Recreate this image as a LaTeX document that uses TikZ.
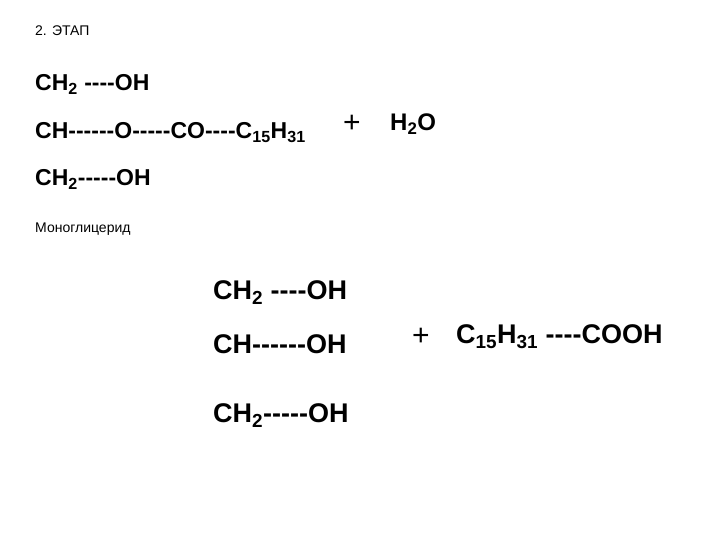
\documentclass[tikz,border=0pt]{standalone}
\usepackage{fontspec}
\setmainfont{Liberation Sans}[Ligatures=TeXOff]
\newcommand{\sbs}[1]{\textsubscript{#1}}
\begin{document}
\begin{tikzpicture}[x=1pt,y=-1pt,
  sm/.style={anchor=mid west,inner sep=0pt,font=\fontsize{14}{16}\selectfont},
  md/.style={anchor=mid west,inner sep=0pt,font=\fontsize{23}{26}\selectfont\bfseries},
  lg/.style={anchor=mid west,inner sep=0pt,font=\fontsize{27}{30}\selectfont\bfseries},
  pl/.style={anchor=mid west,inner sep=0pt,font=\fontsize{30}{32}\selectfont}]
\useasboundingbox[fill=white] (0,0) rectangle (720,540);
\node[sm] (t) at (35,33) {2. ЭТАП};
\node[md] (a1) at (35,88) {CH\sbs{2} ----OH};
\node[md] (a2) at (35,136) {CH------O-----CO----C\sbs{15}H\sbs{31}};
\node[pl] (p1) at (343,130) {+};
\node[md,font=\fontsize{24}{26}\selectfont\bfseries] (w) at (390,128) {H\sbs{2}O};
\node[md] (a3) at (35,183) {CH\sbs{2}-----OH};
\node[sm] (m) at (35,230) {Моноглицерид};
\node[lg] (b1) at (213,297) {CH\sbs{2} ----OH};
\node[lg] (b2) at (213,351) {CH------OH};
\node[pl] (p2) at (412,343) {+};
\node[lg] (c) at (456,341) {C\sbs{15}H\sbs{31} ----COOH};
\node[lg] (b3) at (213,420) {CH\sbs{2}-----OH};
\end{tikzpicture}
\end{document}
